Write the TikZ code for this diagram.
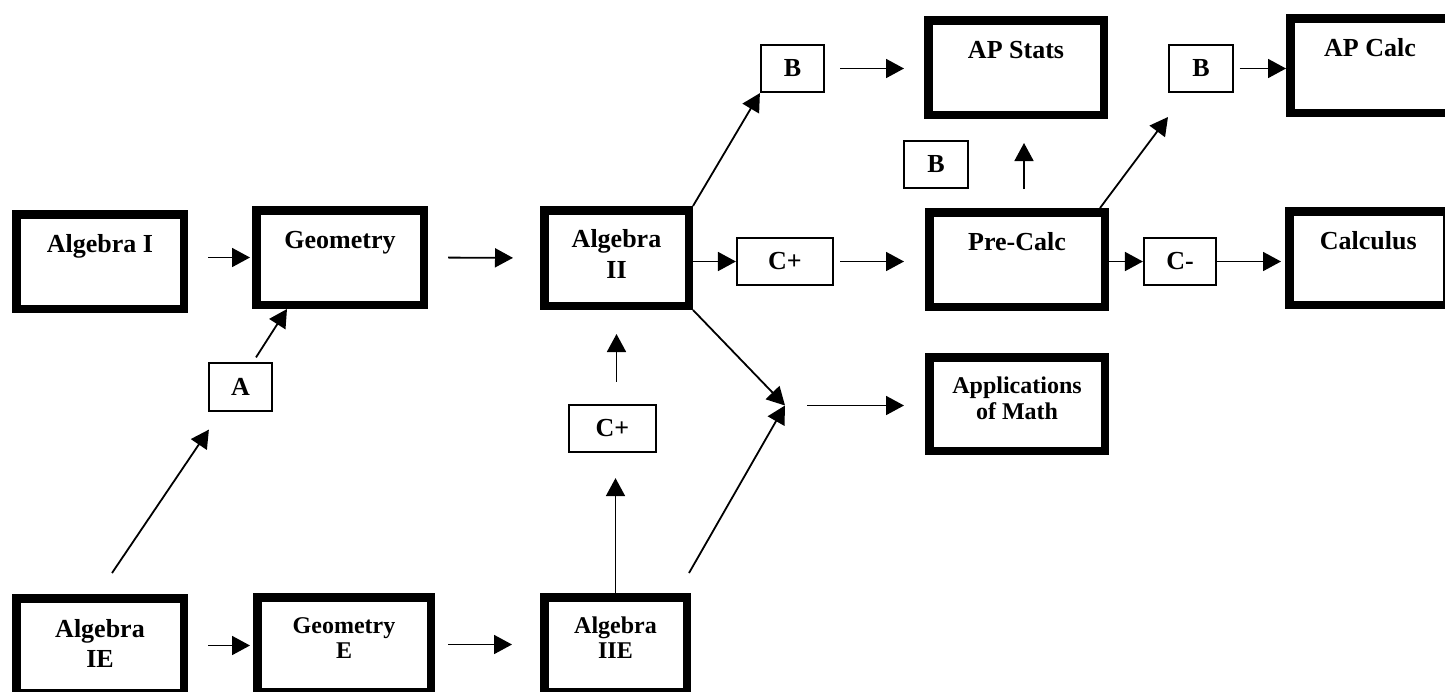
\documentclass[tikz,border=0pt]{standalone}
\usepackage{fontspec}
\setmainfont{Liberation Serif}
\usetikzlibrary{arrows.meta}
\tikzset{
  course/.style={draw, line width=4.25pt, minimum width=83.75pt, minimum height=47.25pt,
    inner sep=0pt, align=center, text height=9pt, text depth=18pt,
    font=\fontsize{13}{15.5}\selectfont\bfseries},
  snug/.style={font=\fontsize{12}{12.5}\selectfont\bfseries, text height=21.5pt, text depth=8pt},
  grade/.style={draw, line width=0.85pt, minimum width=31.75pt, minimum height=23.75pt,
    inner sep=0pt, font=\fontsize{13}{15}\selectfont\bfseries},
  arr/.style={line width=0.9pt, -{Triangle[length=9pt,width=9.5pt]}},
}
\begin{document}
\begin{tikzpicture}[x=0.5pt, y=-0.5pt]
\useasboundingbox (0,0) rectangle (1445,691);
% Courses
\node[course] (alg1) at (100,261.5) {Algebra I};
\node[course] (geo) at (340,257.5) {Geometry};
\node[course, minimum width=72.25pt, minimum height=47.75pt, text height=24.5pt, text depth=4.5pt]
  (alg2) at (616.5,258) {Algebra\\II};
\node[course, minimum width=87.75pt] (pc) at (1017,259.5) {Pre-Calc};
\node[course, minimum width=87.75pt, minimum height=46.75pt, text height=22pt, text depth=7pt,
  font=\fontsize{12}{13}\selectfont\bfseries] (apps) at (1017,404) {Applications\\of Math};
\node[course, minimum width=87.75pt] (aps) at (1016,67.5) {AP Stats};
\node[course, minimum width=79.75pt] (apc) at (1370,65.5) {AP Calc};
\node[course, minimum width=79pt, minimum height=46.75pt] (calc) at (1368.25,258) {Calculus};
\node[course, text height=24.5pt, text depth=3pt, font=\fontsize{13}{15}\selectfont\bfseries]
  (alg1e) at (100,645.5) {Algebra\\IE};
\node[course, snug, minimum width=86.75pt] (geoe) at (344,644.5) {Geometry\\E};
\node[course, snug, minimum width=71.25pt] (alg2e) at (615.5,644.5) {Algebra\\IIE};
% Grades
\node[grade] (a) at (240.5,387) {A};
\node[grade] (b1) at (792.5,68.5) {B};
\node[grade] (b2) at (1201,68.5) {B};
\node[grade] (b3) at (936,164.5) {B};
\node[grade, minimum width=48.25pt] (cp1) at (785,261.5) {C+};
\node[grade, minimum width=36.25pt] (cm) at (1180,261.5) {C-};
\node[grade, minimum width=43.75pt] (cp2) at (612.5,428.5) {C+};
\coordinate (b2in) at (1168,117);
\coordinate (join) at (785,405.5);

% Arrows
\draw[arr, shorten <=10pt, shorten >=1pt] (alg1.east |- geo.west) -- (geo.west);
\draw[arr, shorten <=10pt, shorten >=13.5pt] (geo.east) -- (alg2.west);
\draw[arr] (alg2.east |- cp1.west) -- (cp1.west);
\draw[arr, shorten <=3pt, shorten >=10.5pt] (cp1.east) -- (cp1.east -| pc.west);
\draw[arr] (pc.east |- cm.west) -- (cm.west);
\draw[arr, shorten >=2pt] (cm.east) -- (cm.east -| calc.west);
\draw[arr] (alg2.north east) -- (b1.south west);
\draw[arr, shorten <=7.5pt, shorten >=10pt] (b1.east) -- (b1.east -| aps.west);
\draw[arr, shorten <=9.5pt, shorten >=12pt] ([xshift=3.5pt]pc.north) -- ([xshift=3.5pt]pc.north |- aps.south);
\draw[arr] ([xshift=-4.5pt]pc.north east) -- (b2in);
\draw[arr, shorten <=3pt] (b2.east) -- (b2.east -| apc.west);
\draw[arr] (alg2.south east) -- (join);
\draw[arr] ([xshift=-1pt, yshift=10pt]alg2e.north east) -- (join);
\draw[arr, shorten <=11pt, shorten >=10.5pt] (join) -- (join -| apps.west);
\draw[arr, shorten <=11pt, shorten >=12pt] (alg2.south |- cp2.north) -- (alg2.south);
\draw[arr, shorten >=12.5pt] (alg2e.north) -- (alg2e.north |- cp2.south);
\draw[arr] ([xshift=6pt, yshift=10.5pt]alg1e.north) -- ([xshift=0.5pt, yshift=-9pt]a.south west);
\draw[arr] ([xshift=7.75pt, yshift=2.5pt]a.north) -- ([xshift=17.5pt]geo.south west);
\draw[arr, shorten <=10pt, shorten >=1.5pt] (alg1e.east) -- (alg1e.east -| geoe.west);
\draw[arr, shorten <=6.5pt, shorten >=14pt] (geoe.east) -- (alg2e.west);
\end{tikzpicture}
\end{document}
